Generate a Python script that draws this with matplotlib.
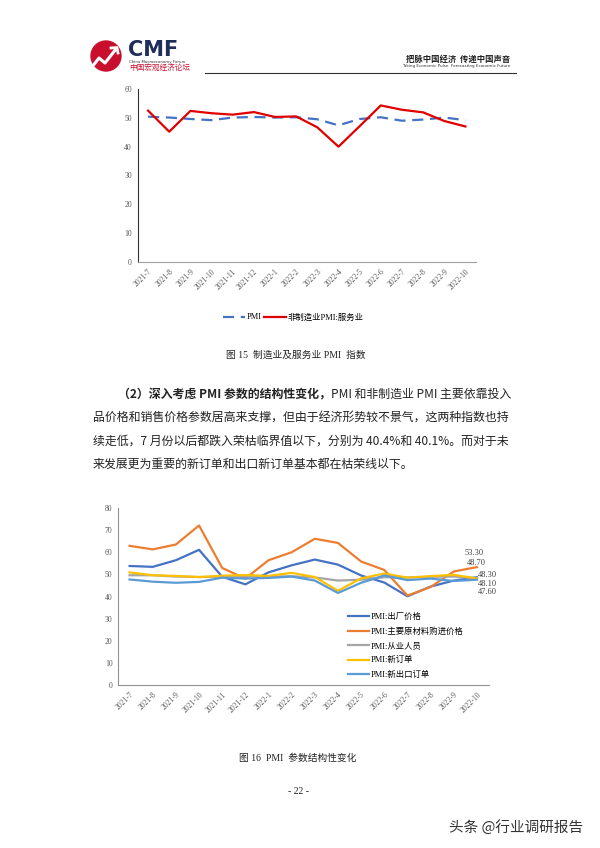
import numpy as np
import matplotlib.pyplot as plt
from matplotlib.patches import Circle

plt.rcParams['font.family'] = ['Liberation Serif', 'Noto Sans CJK SC', 'DejaVu Sans']

# ---- chart 15 data ----
months = ["2021-7", "2021-8", "2021-9", "2021-10", "2021-11", "2021-12",
          "2022-1", "2022-2", "2022-3", "2022-4", "2022-5", "2022-6",
          "2022-7", "2022-8", "2022-9", "2022-10"]
pmi = [50.4, 50.1, 49.6, 49.2, 50.1, 50.3, 50.1, 50.2,
       49.5, 47.4, 49.6, 50.2, 49.0, 49.4, 50.1, 49.2]
pmi_service = [52.5, 45.2, 52.4, 51.6, 51.1, 52.0, 50.3, 50.5,
               46.7, 40.0, 47.1, 54.3, 52.8, 51.9, 48.9, 47.0]

# ---- chart 16 data ----
sub_names = ["PMI:出厂价格", "PMI:主要原材料购进价格", "PMI:从业人员",
             "PMI:新订单", "PMI:新出口订单"]
out_price = [53.8, 53.4, 56.4, 61.1, 48.9, 45.5, 50.9, 54.1,
             56.7, 54.4, 49.5, 46.3, 40.1, 44.5, 47.2, 48.7]
input_price = [62.9, 61.3, 63.5, 72.1, 52.9, 48.1, 56.4, 60.0,
               66.1, 64.2, 55.8, 52.0, 40.4, 44.3, 51.3, 53.3]
employment = [49.6, 49.6, 49.0, 48.8, 48.9, 49.1, 48.9, 49.2,
              48.6, 47.2, 47.6, 48.7, 48.6, 48.9, 49.0, 48.3]
new_orders = [50.9, 49.6, 49.3, 48.8, 49.4, 49.7, 49.3, 50.7,
              48.8, 42.6, 48.2, 50.4, 48.5, 49.2, 49.8, 48.1]
export_orders = [47.7, 46.7, 46.2, 46.6, 48.5, 48.1, 48.4, 49.0,
                 47.2, 41.6, 46.2, 49.5, 47.4, 48.1, 47.0, 47.6]
sub_colors = ["#4472C4", "#ED7D31", "#A5A5A5", "#FFC000", "#5B9BD5"]

W, H = 600, 848
fig = plt.figure(figsize=(W / 100, H / 100), dpi=100)
fig.patch.set_facecolor("white")


def fx(x):
    return x / W


def fy(y):
    return 1 - y / H


def ptext(x, y, s, **kw):
    return fig.text(fx(x), fy(y), s, **kw)


# ---- page decoration (pixel coordinates overlay) ----
deco = fig.add_axes([0, 0, 1, 1])
deco.set_xlim(0, W)
deco.set_ylim(H, 0)
deco.axis("off")
deco.add_patch(Circle((106, 56), 15, color="#C8102E"))
deco.plot([92, 99, 105, 116], [67, 58, 63, 49], color="white", lw=2.2,
          solid_capstyle="round")
deco.plot([111, 117, 118], [48, 47.5, 53], color="white", lw=2)
deco.plot([205, 516], [73, 73], color="#333333", lw=0.8)
ptext(128, 50, "CMF", fontsize=15, fontweight="bold", color="#1F2D5A",
      family="DejaVu Sans", va="center")
ptext(129, 62, "China Macroeconomy Forum", fontsize=2.8, color="#333333",
      family="DejaVu Sans", va="center")
ptext(129, 68, "中国宏观经济论坛", fontsize=5.5, color="#C8102E", va="center",
      family=["Noto Sans CJK SC"])
ptext(510, 59, "把脉中国经济  传递中国声音", fontsize=6, fontweight="bold",
      color="#222222", ha="right", va="center", family=["Noto Sans CJK SC"])
ptext(510, 65.5, "Taking Economic Pulse  Forecasting Economic Future", fontsize=3,
      color="#333333", ha="right", va="center", family="DejaVu Sans")

# ---- chart 15 ----
x = np.arange(len(months))
ax1 = fig.add_axes([fx(137.5), fy(262), fx(476) - fx(137.5), fy(89) - fy(262)])
ax1.plot(x, pmi, color="#4472C4", lw=1.6, dashes=(5, 3), label="PMI")
ax1.plot(x, pmi_service, color="#E00000", lw=1.6, label="非制造业PMI:服务业")
ax1.set_xlim(-0.5, len(months) - 0.5)
ax1.set_ylim(0, 60)
ax1.set_yticks(range(0, 61, 10))
ax1.set_xticks(x)
ax1.set_xticklabels(months, rotation=45, ha="right", rotation_mode="anchor")
ax1.tick_params(axis="both", length=0, labelsize=5.5, colors="#595959", pad=4)
for s in ["top", "right"]:
    ax1.spines[s].set_visible(False)
ax1.spines["left"].set_color("#333333")
ax1.spines["bottom"].set_color("#A0A0A0")
ax1.legend(loc="center", bbox_to_anchor=(0.46, -0.32), ncol=2, frameon=False,
           fontsize=6, handlelength=2.6, columnspacing=0.3, handletextpad=0.2)

ptext(296, 355, "图 15  制造业及服务业 PMI  指数", fontsize=7, color="#222222",
      ha="center", va="center")

# ---- body text ----
body_kw = dict(fontsize=8.6, color="#222222", va="center",
               family=["Noto Sans CJK SC"])
t1 = ptext(118, 394, "（2）深入考虑 PMI 参数的结构性变化，", fontweight="bold", **body_kw)
fig.canvas.draw()
bb = t1.get_window_extent()
fig.text(bb.x1 / fig.bbox.width, fy(394), "PMI 和非制造业 PMI 主要依靠投入", **body_kw)
ptext(93, 418, "品价格和销售价格参数居高来支撑，但由于经济形势较不景气，这两种指数也持", **body_kw)
ptext(93, 441, "续走低，7 月份以后都跌入荣枯临界值以下，分别为 40.4%和 40.1%。而对于未", **body_kw)
ptext(93, 464, "来发展更为重要的新订单和出口新订单基本都在枯荣线以下。", **body_kw)

# ---- chart 16 ----
ax2 = fig.add_axes([fx(118), fy(685), fx(488.5) - fx(118), fy(508) - fy(685)])
series = [out_price, input_price, employment, new_orders, export_orders]
for vals, name, c in zip(series, sub_names, sub_colors):
    ax2.plot(x, vals, color=c, lw=1.6, label=name)
ax2.set_xlim(-0.5, len(months) - 0.5)
ax2.set_ylim(0, 80)
ax2.set_yticks(range(0, 81, 10))
ax2.set_xticks(x)
ax2.set_xticklabels(months, rotation=45, ha="right", rotation_mode="anchor")
ax2.tick_params(axis="both", length=0, labelsize=5.5, colors="#595959", pad=4)
for s in ["top", "right"]:
    ax2.spines[s].set_visible(False)
ax2.spines["left"].set_color("#909090")
ax2.spines["bottom"].set_color("#909090")
ax2.legend(loc="upper left", bbox_to_anchor=(0.6, 0.45), frameon=False,
           fontsize=6, handlelength=2.6, handletextpad=0.2, labelspacing=0.75)

# end-of-series value labels (offsets in points, as placed in the original)
label_offsets = [(-7, 10), (-8.6, 10), (1, 2.2), (1, -3.6), (1, -9.2)]
last = len(months) - 1
for vals, off in zip(series, label_offsets):
    ax2.annotate(f"{vals[last]:.2f}", (last, vals[last]), xytext=off,
                 textcoords="offset points", fontsize=6, color="#404040",
                 va="center", ha="left")

ptext(298, 758, "图 16  PMI  参数结构性变化", fontsize=7, color="#222222",
      ha="center", va="center")
ptext(299, 792, "- 22 -", fontsize=7, color="#222222", ha="center", va="center")
ptext(516, 828, "头条 @行业调研报告", fontsize=10.5, color="#333333", ha="center",
      va="center", family=["Noto Sans CJK SC"])

fig.savefig("out.png", dpi=100)
